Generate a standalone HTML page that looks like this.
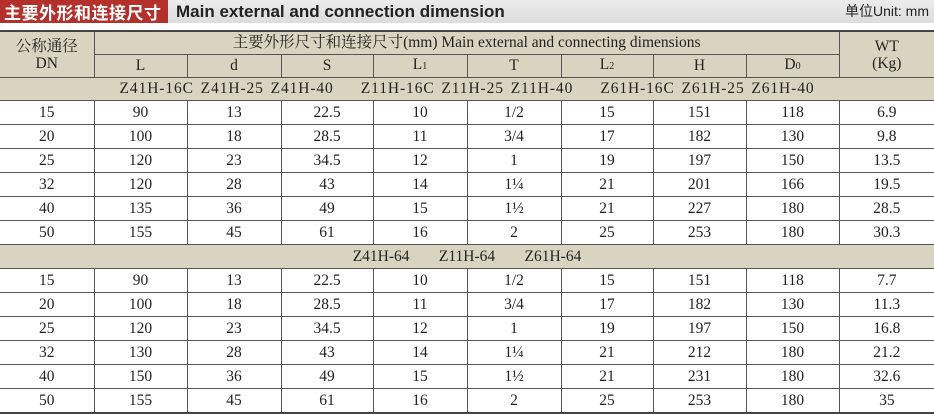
<!DOCTYPE html>
<html><head><meta charset="utf-8"><style>
body{margin:0;width:934px;height:414px;background:#fff;overflow:hidden;font-family:"Liberation Serif","Noto Serif CJK SC",serif;}
.bar{position:absolute;left:0;top:0;width:934px;height:23px;background:linear-gradient(#ececec,#dcdcdc);}
.red{position:absolute;left:0;top:0;width:168px;height:23px;background:#b3302b;color:#fff;font:bold 17px "Noto Sans CJK SC",sans-serif;line-height:23px;text-indent:4px;letter-spacing:0.5px}
.en{position:absolute;left:176px;top:0;font:bold 17px "Liberation Sans",sans-serif;line-height:23px;color:#222}
.unit{position:absolute;right:5px;top:0;font:14px "Liberation Sans","Noto Sans CJK SC",sans-serif;line-height:23px;color:#222}
table{position:absolute;left:0;top:30px;width:934px;border-collapse:collapse;table-layout:fixed;font-size:15.5px;color:#222}
td{border:1px solid #555;text-align:center;padding:0;height:23px;line-height:20px;overflow:hidden;white-space:nowrap}
tr.h td{height:22px}
.bg td,td.bg{background:#d9d4c0}
table{border-top:2px solid #444;border-bottom:2px solid #444}
td:first-child{border-left:none}td:last-child{border-right:none}
</style></head><body>
<div class="bar"></div><div class="red">主要外形和连接尺寸</div><div class="en">Main external and connection dimension</div><div class="unit">单位Unit: mm</div>
<table>
<colgroup><col style="width:94px"><col style="width:93px"><col style="width:94px"><col style="width:92px"><col style="width:94px"><col style="width:94px"><col style="width:92px"><col style="width:93px"><col style="width:93px"><col style="width:95px"></colgroup>
<tr class="bg h"><td rowspan="2" style="line-height:17px">公称通径<br>DN</td><td colspan="8">主要外形尺寸和连接尺寸(mm) Main external and connecting dimensions</td><td rowspan="2" style="line-height:17px">WT<br>(Kg)</td></tr>
<tr class="bg h"><td>L</td><td>d</td><td>S</td><td>L<small style="font-size:10px">1</small></td><td>T</td><td>L<small style="font-size:10px">2</small></td><td>H</td><td>D<small style="font-size:10px">0</small></td></tr>
<tr class="bg h"><td colspan="10" style="word-spacing:2px;letter-spacing:0.9px">Z41H-16C Z41H-25 Z41H-40 &nbsp;&nbsp; Z11H-16C Z11H-25 Z11H-40 &nbsp;&nbsp; Z61H-16C Z61H-25 Z61H-40</td></tr>
<tr><td>15</td><td>90</td><td>13</td><td>22.5</td><td>10</td><td>1/2</td><td>15</td><td>151</td><td>118</td><td>6.9</td></tr>
<tr><td>20</td><td>100</td><td>18</td><td>28.5</td><td>11</td><td>3/4</td><td>17</td><td>182</td><td>130</td><td>9.8</td></tr>
<tr><td>25</td><td>120</td><td>23</td><td>34.5</td><td>12</td><td>1</td><td>19</td><td>197</td><td>150</td><td>13.5</td></tr>
<tr><td>32</td><td>120</td><td>28</td><td>43</td><td>14</td><td>1¼</td><td>21</td><td>201</td><td>166</td><td>19.5</td></tr>
<tr><td>40</td><td>135</td><td>36</td><td>49</td><td>15</td><td>1½</td><td>21</td><td>227</td><td>180</td><td>28.5</td></tr>
<tr><td>50</td><td>155</td><td>45</td><td>61</td><td>16</td><td>2</td><td>25</td><td>253</td><td>180</td><td>30.3</td></tr>
<tr class="bg"><td colspan="10" style="word-spacing:2px">Z41H-64 &nbsp;&nbsp;&nbsp; Z11H-64 &nbsp;&nbsp;&nbsp; Z61H-64</td></tr>
<tr><td>15</td><td>90</td><td>13</td><td>22.5</td><td>10</td><td>1/2</td><td>15</td><td>151</td><td>118</td><td>7.7</td></tr>
<tr><td>20</td><td>100</td><td>18</td><td>28.5</td><td>11</td><td>3/4</td><td>17</td><td>182</td><td>130</td><td>11.3</td></tr>
<tr><td>25</td><td>120</td><td>23</td><td>34.5</td><td>12</td><td>1</td><td>19</td><td>197</td><td>150</td><td>16.8</td></tr>
<tr><td>32</td><td>130</td><td>28</td><td>43</td><td>14</td><td>1¼</td><td>21</td><td>212</td><td>180</td><td>21.2</td></tr>
<tr><td>40</td><td>150</td><td>36</td><td>49</td><td>15</td><td>1½</td><td>21</td><td>231</td><td>180</td><td>32.6</td></tr>
<tr><td>50</td><td>155</td><td>45</td><td>61</td><td>16</td><td>2</td><td>25</td><td>253</td><td>180</td><td>35</td></tr>
</table>
</body></html>
